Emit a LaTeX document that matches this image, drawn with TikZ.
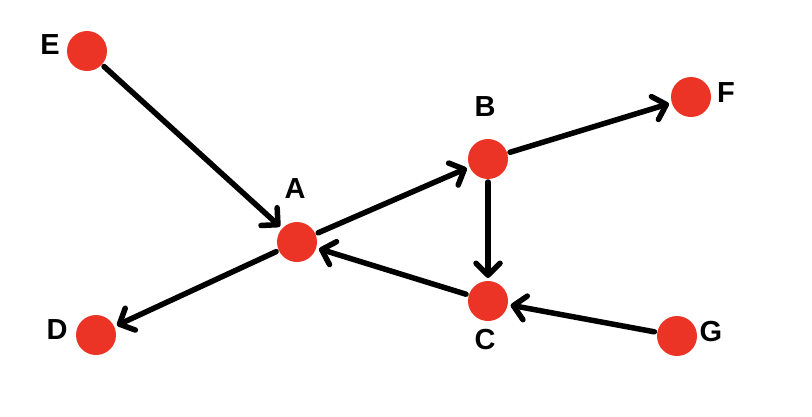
\documentclass[tikz,border=0pt]{standalone}
\usepackage{fontspec}
\setmainfont{Liberation Sans}
\usepackage{tikz}
\usetikzlibrary{arrows.meta}
\definecolor{dotred}{RGB}{236,52,38}
\tikzset{>={Straight Barb[length=12pt,width=24pt,line cap=round,line join=round]}}
\tikzset{dot/.style={circle, fill=dotred, minimum size=40pt, inner sep=0pt, outer sep=3pt},
         lbl/.style={font=\fontsize{29}{34}\selectfont\bfseries},
         edge/.style={->, line width=5.5pt, line cap=round}}

\begin{document}
\begin{tikzpicture}[x=1pt, y=-1pt]
\useasboundingbox (0,0) rectangle (812,416);
\node[dot] (E) at (87,51) {};
\node[dot] (A) at (297,242) {};
\node[dot] (B) at (488,159) {};
\node[dot] (F) at (691,97) {};
\node[dot] (D) at (96,335) {};
\node[dot] (C) at (488,301) {};
\node[dot] (G) at (677,336) {};
\node[lbl] (lE) at (50,45) {E};
\node[lbl] (lA) at (295,189) {A};
\node[lbl] (lB) at (485,107) {B};
\node[lbl] (lF) at (726,93) {F};
\node[lbl] (lD) at (57,330) {D};
\node[lbl] (lC) at (485,340) {C};
\node[lbl] (lG) at (711,332) {G};
\draw[edge] (E) -- (A);
\draw[edge] (A) -- (B);
\draw[edge] (B) -- (F);
\draw[edge] (B) -- (C);
\draw[edge] (C) -- (A);
\draw[edge] (G) -- (C);
\draw[edge] (A) -- (D);
\end{tikzpicture}
\end{document}
